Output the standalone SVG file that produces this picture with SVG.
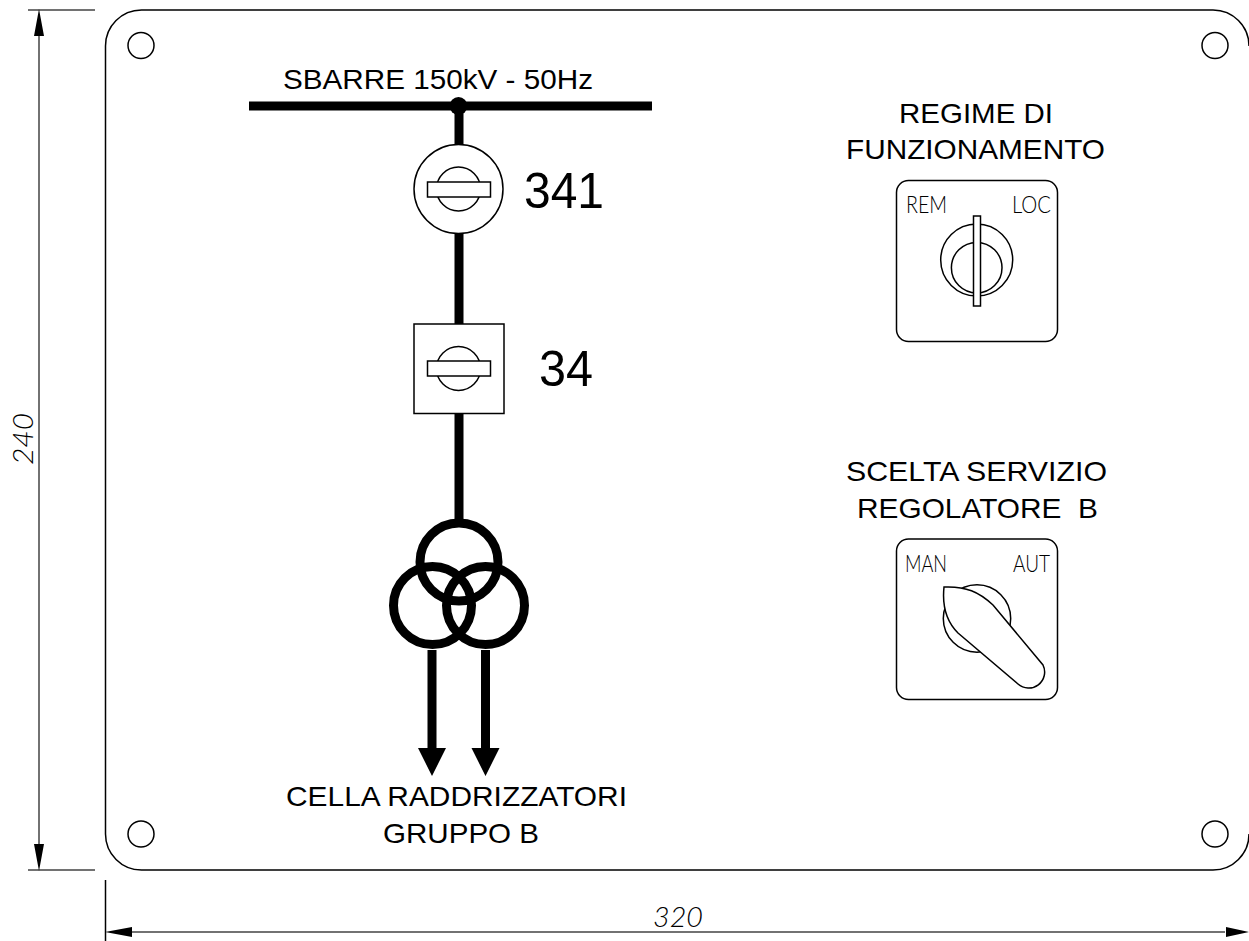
<svg xmlns="http://www.w3.org/2000/svg" width="1249" height="941" viewBox="0 0 1249 941">
<style>
.l{fill:none;stroke:#000;stroke-width:1.5}
.d{fill:none;stroke:#444;stroke-width:1.5}
.k{fill:#fff;stroke:#000;stroke-width:1.5}
.b{fill:none;stroke:#000;stroke-width:9}
.t{font-family:"Liberation Sans",Arial,sans-serif;fill:#000;font-size:28px}
.n{font-size:50px}
.s{font-family:"Lato","Liberation Sans",sans-serif;font-weight:300;font-size:24px;fill:#000}
.i{font-family:"Lato","Liberation Sans",sans-serif;font-weight:300;font-style:italic;font-size:27px;fill:#000}
</style>
<rect width="1249" height="941" fill="#fff"/>
<g id="panel">
<path class="l" d="M1249 46A36 36 0 0 0 1213 10H141.500A36 36 0 0 0 105.500 46V834A36 36 0 0 0 141.500 870H1213A36 36 0 0 0 1249 834"/>
<circle class="l" cx="141" cy="45.500" r="13"/>
<circle class="l" cx="1215" cy="45.500" r="13"/>
<circle class="l" cx="141" cy="834" r="13"/>
<circle class="l" cx="1215" cy="834" r="13"/>
</g>
<g id="dimensions">
<path class="d" d="M28 10H95M28 870H95M39 30V850M125 932H1225"/>
<path class="l" d="M105.500 880V941"/>
<path d="M39 9L44 36H34ZM39 871L44 844H34ZM105 932L132 927V937ZM1249 932L1226 927V937Z"/>
<text class="i" transform="translate(33 465) rotate(-90)" textLength="52" lengthAdjust="spacingAndGlyphs">240</text>
<text class="i" x="653" y="927" textLength="50" lengthAdjust="spacingAndGlyphs">320</text>
</g>
<g id="connectors">
<path class="b" d="M249 106H652M459 106V145M459 233V325M459 412V522M432 650V750M485.500 650V750"/>
<path d="M418 748H446L432 776ZM471.500 748H499.500L485.500 776Z"/>
</g>
<g id="bus">
<circle cx="458.500" cy="106" r="9"/>
<text class="t" x="283" y="89" textLength="310" lengthAdjust="spacingAndGlyphs">SBARRE 150kV - 50Hz</text>
</g>
<g id="breaker-341">
<circle class="k" cx="458.500" cy="189" r="44.500"/>
<circle class="k" cx="458.500" cy="189" r="22"/>
<rect class="k" x="427.500" y="182" width="63" height="15"/>
<text class="t n" x="524" y="208" textLength="80" lengthAdjust="spacingAndGlyphs">341</text>
</g>
<g id="breaker-34">
<rect class="k" x="414" y="324" width="90" height="89.500"/>
<circle class="k" cx="458.500" cy="368.500" r="22"/>
<rect class="k" x="427.500" y="361" width="63" height="15"/>
<text class="t n" x="539" y="386" textLength="54" lengthAdjust="spacingAndGlyphs">34</text>
</g>
<g id="transformer">
<circle class="b" cx="459" cy="562" r="39"/>
<circle class="b" cx="432.500" cy="605.500" r="39"/>
<circle class="b" cx="485.500" cy="605.500" r="39"/>
<text class="t" x="286" y="806" textLength="341" lengthAdjust="spacingAndGlyphs">CELLA RADDRIZZATORI</text>
<text class="t" x="383" y="843" textLength="156" lengthAdjust="spacingAndGlyphs">GRUPPO B</text>
</g>
<g id="switch-regime">
<text class="t" x="899" y="123" textLength="154" lengthAdjust="spacingAndGlyphs">REGIME DI</text>
<text class="t" x="846" y="159" textLength="259" lengthAdjust="spacingAndGlyphs">FUNZIONAMENTO</text>
<rect class="l" x="896.500" y="180.500" width="161" height="161" rx="12"/>
<text class="s" x="906" y="213" textLength="41" lengthAdjust="spacingAndGlyphs">REM</text>
<text class="s" x="1012" y="213" textLength="39" lengthAdjust="spacingAndGlyphs">LOC</text>
<circle class="l" cx="976.700" cy="260" r="36"/>
<circle class="l" cx="976.700" cy="267.700" r="25.300"/>
<rect class="k" x="973.500" y="216" width="7" height="90"/>
</g>
<g id="switch-servizio">
<text class="t" x="846" y="481" textLength="261" lengthAdjust="spacingAndGlyphs">SCELTA SERVIZIO</text>
<text class="t" x="857" y="518" textLength="241" lengthAdjust="spacingAndGlyphs" xml:space="preserve">REGOLATORE  B</text>
<rect class="l" x="896.500" y="539" width="161" height="160.500" rx="12"/>
<text class="s" x="905" y="571.500" textLength="42" lengthAdjust="spacingAndGlyphs">MAN</text>
<text class="s" x="1013" y="571.500" textLength="37" lengthAdjust="spacingAndGlyphs">AUT</text>
<circle class="l" cx="977" cy="618.500" r="33.700"/>
<path class="k" d="M944 587C966 586 979 592 993 605L1043 665A16 16 0 0 1 1018 684L958 633C946 621 942 606 944 587Z"/>
</g>
</svg>
